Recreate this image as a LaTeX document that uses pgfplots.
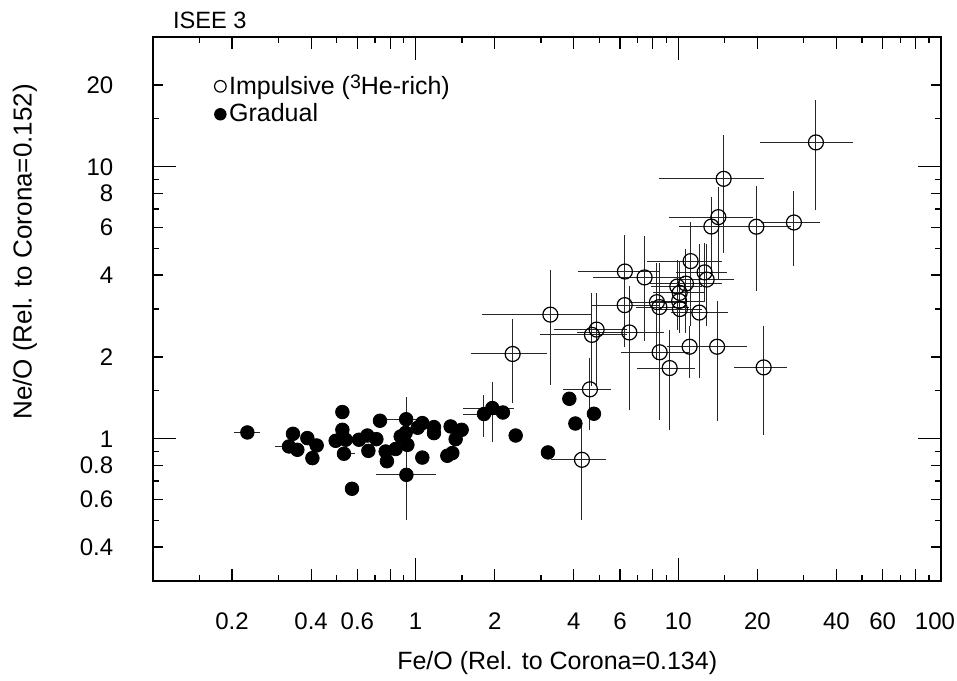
\documentclass[border=0pt]{standalone}
\usepackage{pgfplots}
\pgfplotsset{compat=1.18}
\usepackage{pgfplotstable}
\usepackage{fontspec}
\setmainfont{Liberation Sans}

\pgfplotstableread{
x y exm exp eym eyp
0.2287 1.055 0.026 0.026 0 0
0.3411 1.043 0 0 0 0
0.3294 0.937 0.038 0.038 0 0
0.3545 0.911 0 0 0 0
0.3870 1.006 0 0 0 0
0.4199 0.945 0.027 0.027 0 0
0.4044 0.849 0 0 0 0
0.5260 1.254 0 0 0 0
0.5260 1.079 0 0 0 0
0.4960 0.983 0 0 0 0
0.5415 0.992 0 0 0 0
0.5334 0.881 0.033 0.052 0 0
0.5722 0.655 0 0 0 0
0.6085 0.992 0 0 0 0
0.6549 1.028 0 0 0 0
0.6607 0.903 0 0 0 0
0.7087 0.997 0 0 0 0
0.7314 1.165 0 0 0 0
0.7688 0.898 0 0 0 0
0.7775 0.827 0 0 0 0
0.920 1.180 0.15 0.15 0.15 0.25
0.877 1.020 0 0 0 0
0.916 1.052 0 0 0 0
0.930 0.950 0 0 0 0
0.839 0.917 0 0 0 0
1.060 0.853 0 0 0 0
0.922 0.737 0.218 0.270 0.233 0.654
1.060 1.142 0 0 0 0
1.018 1.098 0 0 0 0
1.174 1.104 0 0 0 0
1.174 1.049 0 0 0 0
1.359 1.110 0 0 0 0
1.497 1.079 0 0 0 0
1.420 0.997 0 0 0 0
1.320 0.866 0 0 0 0
1.379 0.886 0 0 0 0
1.820 1.233 0.31 0.28 0.216 0.218
1.959 1.297 0.45 0.40 0.32 0.32
2.149 1.249 0 0 0 0
2.403 1.028 0 0 0 0
3.189 0.891 0 0 0 0
3.847 1.403 0 0 0 0
4.055 1.138 0 0 0 0
4.772 1.236 0 0 0 0
}\gradual

\pgfplotstableread{
x y exm exp eym eyp
33.41 12.29 13.0 12.8 5.38 5.34
14.88 9.03 6.41 6.30 4.21 4.08
14.20 6.53 4.99 5.10 2.69 1.93
13.36 6.03 3.27 3.41 1.96 1.71
19.82 6.02 5.74 6.94 2.54 2.49
27.55 6.24 6.97 6.96 1.94 1.92
11.14 4.50 3.57 3.57 1.90 1.74
6.26 4.12 2.10 2.18 1.94 1.50
7.44 3.92 2.69 3.06 1.64 1.66
12.59 4.09 2.82 2.78 0.89 1.15
12.82 3.85 2.82 3.46 1.25 1.35
10.69 3.72 2.91 4.02 1.27 1.26
9.91 3.63 2.07 2.43 1.11 0.92
10.12 3.44 2.12 2.38 0.81 1.06
10.07 3.21 2.17 2.53 0.61 1.19
8.29 3.18 1.79 2.41 1.23 1.25
8.47 3.05 1.57 2.53 0.95 1.25
6.25 3.10 1.55 2.19 0.80 1.10
10.14 3.00 1.74 2.16 0.55 1.30
12.02 2.91 2.65 3.45 1.24 2.30
3.257 2.86 1.474 1.449 1.29 1.30
4.887 2.52 1.535 1.509 0.96 0.91
4.690 2.41 1.725 1.706 0.85 1.03
6.509 2.46 2.383 2.305 1.18 1.17
2.340 2.05 0.72 0.813 0.70 0.71
8.49 2.08 2.46 2.50 0.91 2.35
11.04 2.18 2.00 3.50 0.51 0.42
14.05 2.18 4.51 4.15 1.02 1.02
9.27 1.82 2.33 2.27 0.74 0.70
21.13 1.83 4.85 4.87 0.80 0.77
4.608 1.52 0.971 0.951 0.44 0.46
4.296 0.837 1.031 0.992 0.333 0.323
}\impulsive

\begin{document}
\fontsize{12.5pt}{14.5pt}\selectfont
\begin{tikzpicture}
\path[use as bounding box] (-76.5pt,-49.5pt) rectangle (402pt,290.5pt);
\begin{axis}[
  scale only axis,
  width=394pt, height=272pt,
  xmode=log, ymode=log,
  xmin=0.1, xmax=100, ymin=0.3, ymax=30,
  axis line style={line width=0.8pt},
  tick style={black, line width=0.6pt},
  tick align=inside,
  tick label style={font=\fontsize{12pt}{14pt}\selectfont},
  xtick={0.1,1,10,100}, xticklabels={,1,10,\hspace*{-6pt}100},
  extra x ticks={0.2,0.4,0.6,0.8,2,4,6,8,20,40,60,80},
  extra x tick labels={0.2,0.4,0.6,,2,4,6,,20,40,60,},
  extra x tick style={major tick length=6pt},
  minor xtick={0.15,0.3,0.5,0.7,0.9,1.5,3,5,7,9,15,30,50,70,90},
  ytick={1,10}, yticklabels={1,10},
  extra y ticks={0.4,0.6,0.8,2,4,6,8,20},
  extra y tick labels={0.4,0.6,0.8,2,4,6,8,20},
  extra y tick style={major tick length=5pt},
  minor ytick={0.5,0.7,0.9,1.5,3,5,7,9,15},
  major tick length=11.5pt,
  minor tick length=3pt,
  xticklabel style={yshift=-11.5pt},
  yticklabel style={xshift=-15.5pt},
  every axis x label/.style={at={(axis description cs:0.513,0)}, anchor=center, yshift=-41pt},
  every axis y label/.style={at={([xshift=-64pt]axis description cs:0,0.605)}, rotate=90, anchor=center, font=\fontsize{13pt}{15pt}\selectfont},
  every axis title/.style={at={(axis description cs:0.025,1)}, anchor=base west, yshift=4pt, inner sep=0pt, font=\fontsize{11.8pt}{14pt}\selectfont},
  title={ISEE 3},
  xlabel={Fe/O (Rel. to Corona=0.134)},
  ylabel={Ne/O (Rel. to Corona=0.152)},
  legend style={draw=none, fill=none, at={(axis description cs:0.07,0.945)}, anchor=north west,
    row sep=-0.5pt, nodes={inner sep=1.5pt}, cells={anchor=west}},
  legend image code/.code={\draw[#1, mark size=2.9pt] plot coordinates {(0pt,0pt)};},
  error bars/error bar style={line width=0.5pt, black!85},
]
\addplot[only marks, mark=o, mark size=3.75pt, mark options={line width=0.6pt, black},
  error bars/.cd, x dir=both, x explicit, y dir=both, y explicit, error mark=none]
  table[x=x, y=y, x error minus=exm, x error plus=exp, y error minus=eym, y error plus=eyp] {\impulsive};
\addlegendentry{Impulsive (\raisebox{3.3pt}{\fontsize{9.8pt}{10pt}\selectfont 3}He-rich)}
\addplot[only marks, mark=*, mark size=3.4pt, black,
  error bars/.cd, x dir=both, x explicit, y dir=both, y explicit, error mark=none]
  table[x=x, y=y, x error minus=exm, x error plus=exp, y error minus=eym, y error plus=eyp] {\gradual};
\addlegendentry{Gradual}
\end{axis}
\end{tikzpicture}
\end{document}
